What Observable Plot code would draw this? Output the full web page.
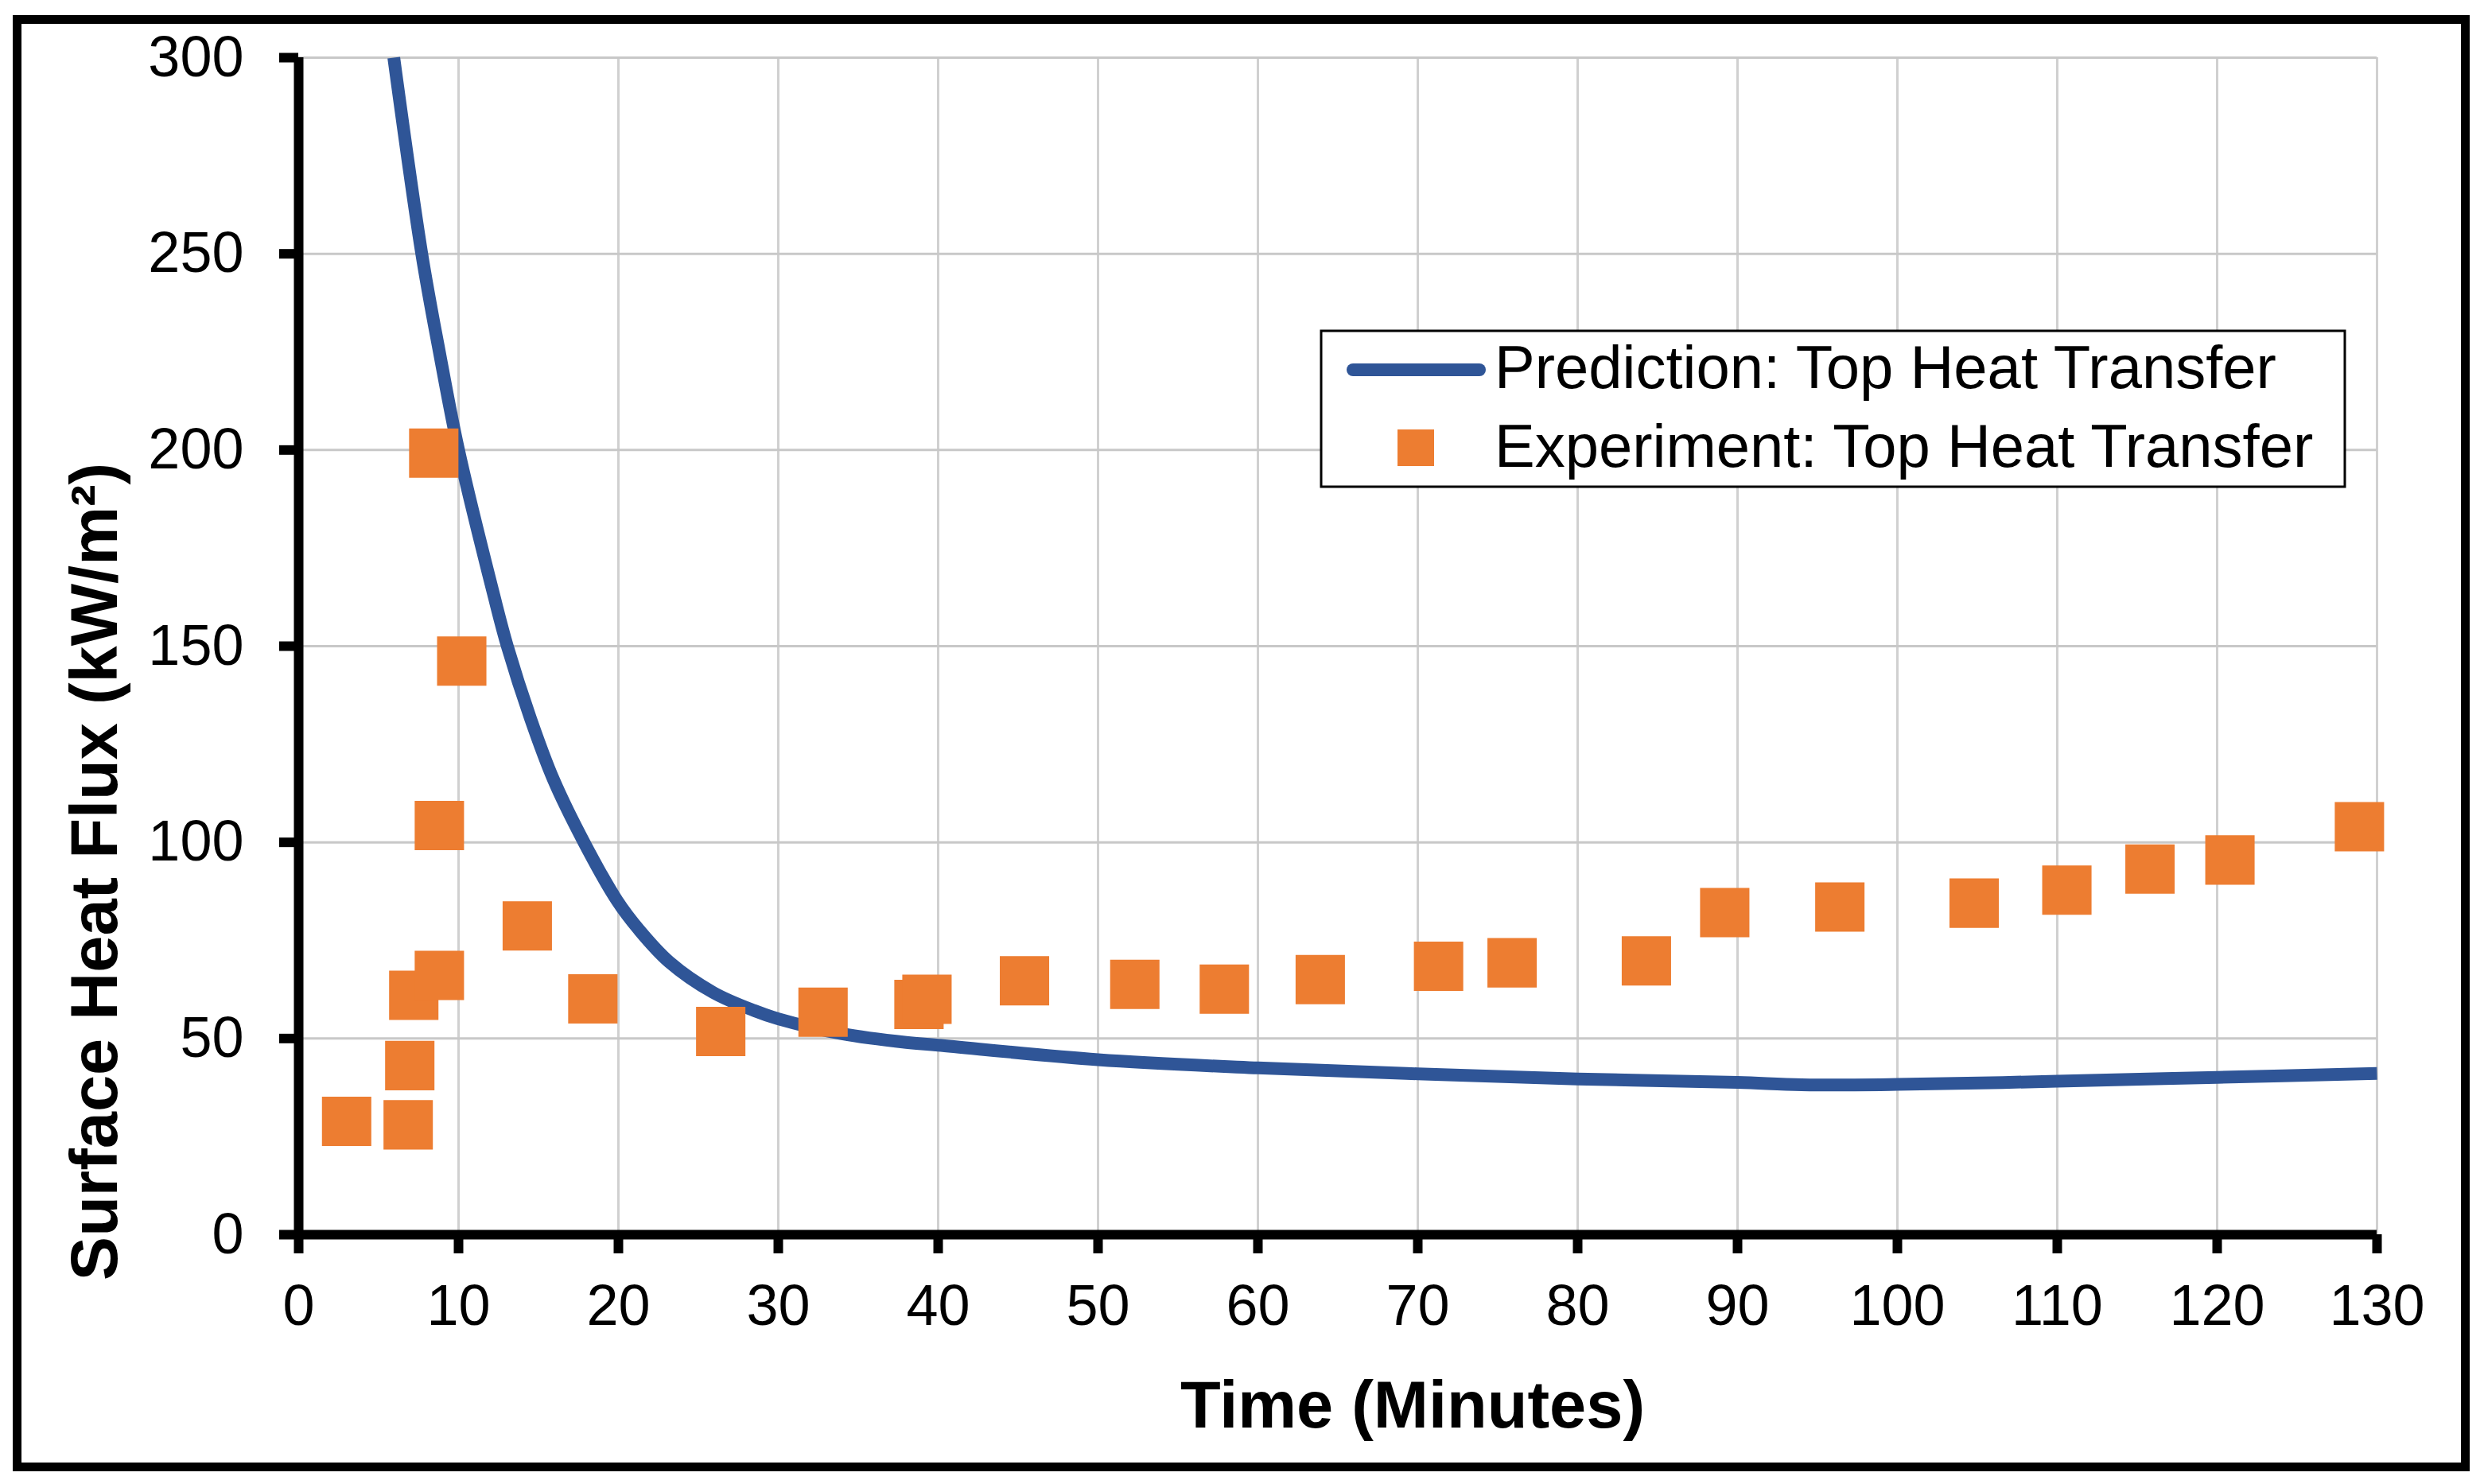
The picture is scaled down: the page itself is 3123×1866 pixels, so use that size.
<!DOCTYPE html>
<html>
<head>
<meta charset="utf-8">
<script src="https://cdn.jsdelivr.net/npm/d3@7"></script>
<script src="https://cdn.jsdelivr.net/npm/@observablehq/plot@0.6"></script>
<style>
  html, body { margin: 0; padding: 0; background: #ffffff; }
  #wrap { position: relative; width: 3123px; height: 1866px; background: #ffffff; overflow: hidden; }
  #wrap > svg { position: absolute; left: 0; top: 0; }
  #overlay { position: absolute; left: 0; top: 0; pointer-events: none; }
</style>
</head>
<body>
<div id="wrap"></div>
<script>
// ---- data ----
const predTime = [5.95, 7.7, 8.8, 10.0, 12.23, 13.05, 14.5, 15.94, 17.85, 19.94, 21.27, 23.18, 25.94, 28.5, 30.0, 34.0, 38.0, 40.0, 50.0, 60.0, 70.0, 80.0, 90.0, 94.0, 100.0, 110.0, 120.0, 130.0];
const predFlux = [300, 250, 225, 200, 162.6, 150, 131.6, 116, 100, 85, 77.8, 69.5, 61.7, 57.1, 55.0, 51.2, 49.0, 48.3, 44.6, 42.5, 41.0, 39.7, 38.8, 38.2, 38.3, 39.1, 40.1, 41.1];

const expTime = [3.0, 6.85, 6.95, 7.2, 8.8, 8.8, 8.45, 10.2, 14.3, 18.4, 26.4, 32.8, 38.8, 39.3, 45.4, 52.3, 57.9, 63.9, 71.3, 75.9, 84.3, 89.2, 96.4, 104.8, 110.6, 115.8, 120.8, 128.9];
const expFlux = [28.9, 28.0, 43.1, 61.0, 66.1, 104.3, 199.2, 146.2, 78.7, 60.1, 51.8, 56.7, 58.7, 60.0, 64.7, 63.8, 62.6, 65.0, 68.4, 69.3, 69.8, 82.1, 83.5, 84.5, 87.8, 93.2, 95.5, 104.0];

const xTicks = [0, 10, 20, 30, 40, 50, 60, 70, 80, 90, 100, 110, 120, 130];
const yTicks = [0, 50, 100, 150, 200, 250, 300];

const seriesNames = ["Prediction: Top Heat Transfer", "Experiment: Top Heat Transfer"];
const xTitle = "Time (Minutes)";
const yTitle = "Surface Heat Flux (kW/m²)";

const blue = "#2F5597";
const orange = "#ED7D31";
const font = "'Liberation Sans', Arial, sans-serif";

const pred = predTime.map((t, i) => ({t, f: predFlux[i]}));
const exp = expTime.map((t, i) => ({t, f: expFlux[i]}));

const chart = Plot.plot({
  width: 3123,
  height: 1866,
  marginLeft: 375,
  marginRight: 135,
  marginTop: 72,
  marginBottom: 314,
  style: {fontFamily: font, fontSize: "72px", color: "#000", background: "#fff", overflow: "visible"},
  x: {domain: [0, 130]},
  y: {domain: [0, 300]},
  marks: [
    Plot.gridX(xTicks.filter(d => d > 0), {stroke: "#d0d0d0", strokeOpacity: 1, strokeWidth: 3}),
    Plot.gridY(yTicks.filter(d => d > 0), {stroke: "#c8c8c8", strokeOpacity: 1, strokeWidth: 3}),
    Plot.line(pred, {x: "t", y: "f", stroke: blue, strokeWidth: 16, curve: "catmull-rom", strokeLinecap: "butt"}),
    Plot.dot(exp, {x: "t", y: "f", symbol: "square", r: 35, fill: orange, stroke: null}),
    Plot.axisY(yTicks, {tickSize: 24, tickPadding: 45, strokeWidth: 12, fontSize: 72, fill: "#000", label: null, tickFormat: d => String(d)}),
    Plot.axisX(xTicks, {tickSize: 24, tickPadding: 38, strokeWidth: 12, fontSize: 72, fill: "#000", label: null, tickFormat: d => String(d)}),
    Plot.ruleX([0], {stroke: "#000", strokeWidth: 12}),
    Plot.ruleY([0], {stroke: "#000", strokeWidth: 12})
  ]
});

const wrap = document.getElementById("wrap");
wrap.appendChild(chart);

// ---- overlay: outer frame, axis titles and legend ----
const ns = "http://www.w3.org/2000/svg";
const ov = document.createElementNS(ns, "svg");
ov.setAttribute("id", "overlay");
ov.setAttribute("width", 3123);
ov.setAttribute("height", 1866);
ov.setAttribute("font-family", font);
function el(tag, attrs, text) {
  const e = document.createElementNS(ns, tag);
  for (const k in attrs) e.setAttribute(k, attrs[k]);
  if (text != null) e.textContent = text;
  ov.appendChild(e);
  return e;
}
// outer border
el("rect", {x: 21.5, y: 24.5, width: 3078, height: 1820, fill: "none", stroke: "#000", "stroke-width": 11});
// axis titles
el("text", {x: 1776, y: 1795, "text-anchor": "middle", "font-weight": "bold", "font-size": 83, fill: "#000"}, xTitle);
el("text", {transform: "translate(147,1096) rotate(-90)", "text-anchor": "middle", "font-weight": "bold", "font-size": 83, fill: "#000"}, yTitle);
// legend
el("rect", {x: 1661, y: 416, width: 1287, height: 196, fill: "#fff", stroke: "#000", "stroke-width": 3});
el("line", {x1: 1701, y1: 465, x2: 1860, y2: 465, stroke: blue, "stroke-width": 16, "stroke-linecap": "round"});
el("text", {x: 1879, y: 488, "font-size": 76, fill: "#000"}, seriesNames[0]);
el("rect", {x: 1757, y: 540, width: 46, height: 46, fill: orange});
el("text", {x: 1879, y: 587, "font-size": 76, fill: "#000"}, seriesNames[1]);
wrap.appendChild(ov);
</script>
</body>
</html>
